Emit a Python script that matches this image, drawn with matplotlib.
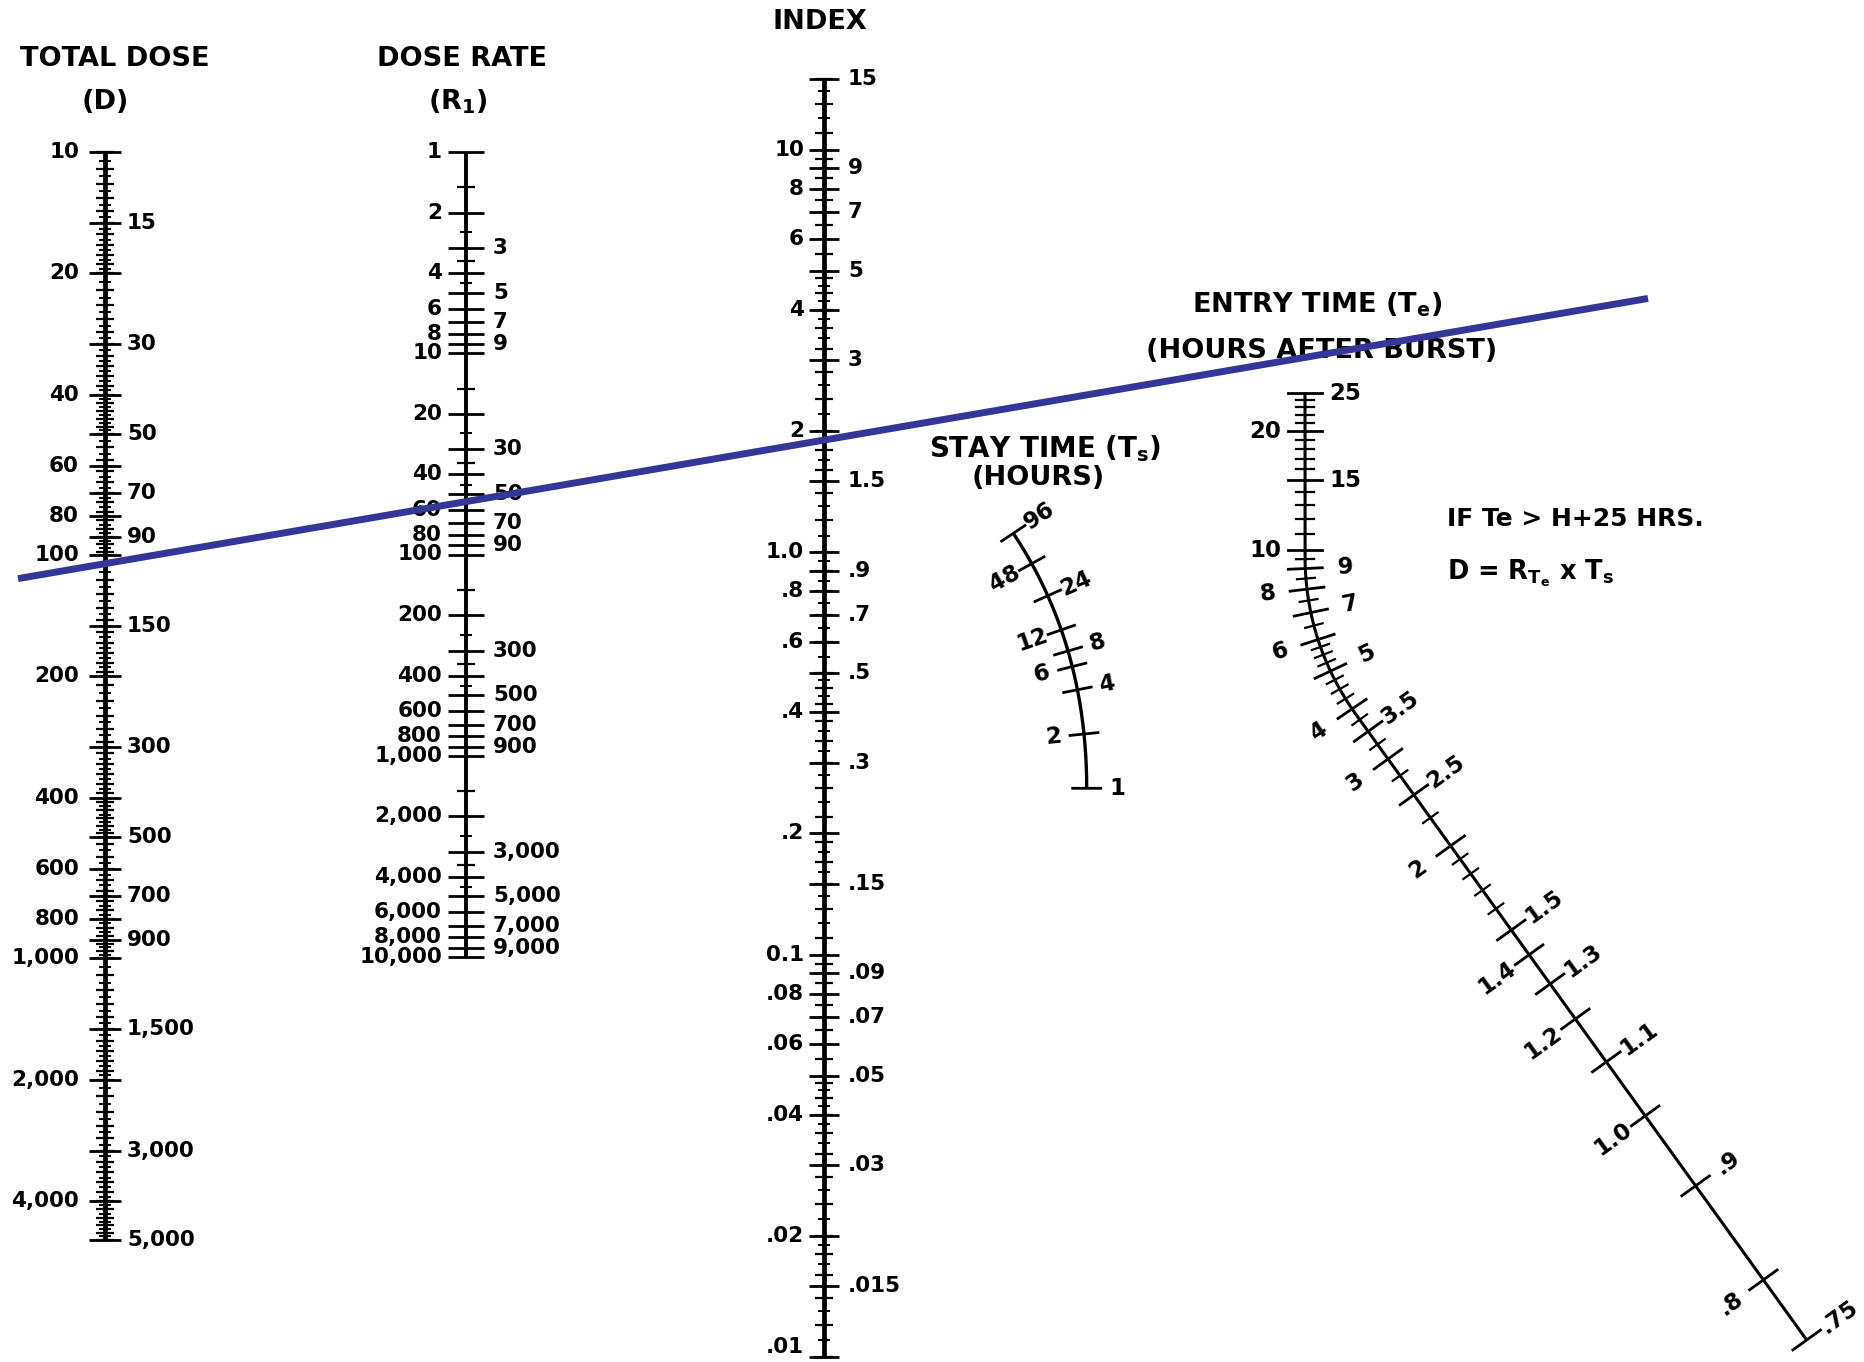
import numpy as np
import matplotlib
matplotlib.use('Agg')
import matplotlib.pyplot as plt

plt.rcParams['font.family'] = ['DejaVu Sans']
plt.rcParams['font.weight'] = 'bold'
plt.rcParams['mathtext.fontset'] = 'dejavusans'

W, H = 1864, 1362

# total dose (D) scale
dose_left = [10, 20, 40, 60, 80, 100, 200, 400, 600, 800, 1000, 2000, 4000]
dose_right = [15, 30, 50, 70, 90, 150, 300, 500, 700, 900, 1500, 3000, 5000]
# dose rate (R1) scale
rate_left = [1, 2, 4, 6, 8, 10, 20, 40, 60, 80, 100, 200, 400, 600, 800,
             1000, 2000, 4000, 6000, 8000, 10000]
rate_right = [3, 5, 7, 9, 30, 50, 70, 90, 300, 500, 700, 900, 3000, 5000, 7000, 9000]
# index scale
index_left = [10, 8, 6, 4, 2, 1.0, .8, .6, .4, .2, .1, .08, .06, .04, .02, .01]
index_left_txt = ['10', '8', '6', '4', '2', '1.0', '.8', '.6', '.4', '.2', '0.1',
                  '.08', '.06', '.04', '.02', '.01']
index_right = [15, 9, 7, 5, 3, 1.5, .9, .7, .5, .3, .15, .09, .07, .05, .03, .015]
index_right_txt = ['15', '9', '7', '5', '3', '1.5', '.9', '.7', '.5', '.3', '.15',
                   '.09', '.07', '.05', '.03', '.015']
# stay time (Ts) scale
stay_left = [2, 6, 12, 48]
stay_right = [1, 4, 8, 24, 96]
# entry time (Te) scale
entry_left = [20, 10, 8, 6, 4, 3, 2, 1.4, 1.2, 1.0, 0.8]
entry_left_txt = ['20', '10', '8', '6', '4', '3', '2', '1.4', '1.2', '1.0', '.8']
entry_right = [25, 15, 9, 7, 5, 3.5, 2.5, 1.5, 1.3, 1.1, 0.9, 0.75]
entry_right_txt = ['25', '15', '9', '7', '5', '3.5', '2.5', '1.5', '1.3', '1.1', '.9', '.75']
entry_minor = np.concatenate([np.arange(10, 25, 1.0), np.arange(6, 10, 0.5),
                              np.arange(2, 6, 0.25), np.arange(1.5, 2, 0.1)])
# example reading drawn across the chart
key_dose = 105
key_index = 1.9

LBL = 15.5
TTL = 19.5


def decade_ticks(lo, hi, steps):
    out = []
    d = 10.0 ** np.floor(np.log10(lo))
    while d < hi * 1.0001:
        for a, b, s in steps:
            out.extend(np.arange(a, b - 1e-9, s) * d)
        d *= 10
    out = np.array(out)
    return out[(out >= lo * 0.9999) & (out <= hi * 1.0001)]


fig = plt.figure(figsize=(W / 100, H / 100), dpi=100)


def vertical_scale(xc, ytop, ybot, vtop, vbot, lw):
    aw = 240
    ax = fig.add_axes([(xc - aw / 2) / W, 1 - ybot / H, aw / W, (ybot - ytop) / H])
    ax.set_yscale('log')
    ax.set_ylim(vbot, vtop)
    ax.set_xlim(-aw / 2, aw / 2)
    ax.axis('off')
    ax.plot([0, 0], [vtop, vbot], color='black', lw=lw, solid_capstyle='butt', clip_on=False)
    return ax


def ticks_and_labels(ax, minor, left, left_txt, right, right_txt, loff, roff, mlen=16,
                     bottom=None):
    ax.hlines(minor[::2], -9, 9, color='black', lw=1.6, clip_on=False)
    ax.hlines(minor[1::2], -6, 6, color='black', lw=1.4, clip_on=False)
    ax.hlines(left + right, -mlen, mlen, color='black', lw=2.0, clip_on=False)
    for v, t in zip(left, left_txt):
        ax.text(-loff, v, t, ha='right', va='bottom' if v == bottom else 'center',
                fontsize=LBL, clip_on=False)
    for v, t in zip(right, right_txt):
        ax.text(roff, v, t, ha='left', va='center', fontsize=LBL, clip_on=False)


# total dose
ax_d = vertical_scale(105, 152, 1240, 10, 5000, 3.4)
ticks_and_labels(ax_d, decade_ticks(10, 5000, [(1, 2, 0.05), (2, 5, 0.1), (5, 10, 0.2)]),
                 dose_left, [f'{v:,}' for v in dose_left],
                 dose_right, [f'{v:,}' for v in dose_right], 26, 22)

# dose rate
ax_r = vertical_scale(466, 152, 957, 1, 10000, 2.8)
ticks_and_labels(ax_r, decade_ticks(1, 10000, [(1.5, 5, 1.0)]),
                 rate_left, [f'{v:,}' for v in rate_left],
                 rate_right, [f'{v:,}' for v in rate_right], 24, 27, mlen=18)

# index
ax_i = vertical_scale(824, 79, 1357, 15, 0.01, 3.4)
ticks_and_labels(ax_i, decade_ticks(0.01, 15, [(1, 2, 0.1), (2, 5, 0.2), (5, 10, 0.5)]),
                 index_left, index_left_txt, index_right, index_right_txt, 20, 24, mlen=15,
                 bottom=0.01)

# overlay axes in pixel units for the curved scales, texts and key line
ax0 = fig.add_axes([0, 0, 1, 1])
ax0.set_xlim(0, W)
ax0.set_ylim(H, 0)
ax0.axis('off')
ax0.set_zorder(5)


def path_points(segments, n=400):
    pts = []
    for seg in segments:
        seg = np.asarray(seg, float)
        t = np.linspace(0, 1, n)[:, None]
        if len(seg) == 2:
            p = (1 - t) * seg[0] + t * seg[1]
        else:
            p = (1 - t) ** 2 * seg[0] + 2 * (1 - t) * t * seg[1] + t ** 2 * seg[2]
        pts.append(p if not pts else p[1:])
    pts = np.vstack(pts)
    arc = np.concatenate([[0], np.cumsum(np.hypot(*np.diff(pts, axis=0).T))])
    return pts, arc


def place(pts, arc, frac):
    a = frac * arc[-1]
    x = np.interp(a, arc, pts[:, 0])
    y = np.interp(a, arc, pts[:, 1])
    i = int(np.clip(np.searchsorted(arc, a), 1, len(arc) - 1))
    tx, ty = pts[i] - pts[i - 1]
    n = np.hypot(tx, ty)
    nx, ny = -ty / n, tx / n
    if nx < 0:
        nx, ny = -nx, -ny
    return x, y, nx, ny


def curved_scale(pts, arc, frac, minor, left, left_txt, right, right_txt,
                 mlen, nlen, off, lw):
    ax0.plot(pts[:, 0], pts[:, 1], color='black', lw=lw, solid_capstyle='butt')
    for v in minor:
        x, y, nx, ny = place(pts, arc, frac(v))
        ax0.plot([x - nlen * nx, x + nlen * nx], [y - nlen * ny, y + nlen * ny],
                 color='black', lw=1.6)
    for vals, txts, sgn in ((left, left_txt, -1), (right, right_txt, 1)):
        for v, t in zip(vals, txts):
            x, y, nx, ny = place(pts, arc, frac(v))
            ax0.plot([x - mlen * nx, x + mlen * nx], [y - mlen * ny, y + mlen * ny],
                     color='black', lw=2.0)
            ang = np.degrees(np.arctan2(-ny, nx))
            ax0.text(x + sgn * off * nx, y + sgn * off * ny, t, fontsize=LBL + 1,
                     ha='center', va='center', rotation=ang, rotation_mode='anchor')


# stay time
stay_pts, stay_arc = path_points([((1086.7, 788.3), (1086.7, 643.5), (1013.3, 533.3))])
stay_s = lambda v: 50.8 * np.log(v) + 38.6 * (1 - 1 / v)
curved_scale(stay_pts, stay_arc, lambda v: stay_s(v) / stay_s(96), [],
             stay_left, [str(v) for v in stay_left], stay_right, [str(v) for v in stay_right],
             14, 8, 31, 2.4)

# entry time
entry_pts, entry_arc = path_points([((1305, 393), (1305, 555)),
                                    ((1305, 555), (1305, 643.8), (1356.9, 715.8)),
                                    ((1356.9, 715.8), (1806.7, 1340))])
entry_s = lambda v: 170 * np.log(25 / v) + 302 * (1 / v - 0.04) ** 2
curved_scale(entry_pts, entry_arc, lambda v: entry_s(v) / entry_s(0.75),
             [v for v in entry_minor if v not in entry_left + entry_right],
             entry_left, entry_left_txt, entry_right, entry_right_txt, 17, 9, 40, 2.2)

# titles and notes
ax0.text(115, 59, 'TOTAL DOSE', ha='center', va='center', fontsize=TTL)
ax0.text(105, 102, '(D)', ha='center', va='center', fontsize=TTL)
ax0.text(462, 59, 'DOSE RATE', ha='center', va='center', fontsize=TTL)
ax0.text(458, 102, r'(R$_\mathbf{1}$)', ha='center', va='center', fontsize=TTL)
ax0.text(820, 22, 'INDEX', ha='center', va='center', fontsize=TTL)
ax0.text(1045, 449, r'STAY TIME (T$_\mathbf{s}$)', ha='center', va='center', fontsize=TTL + 0.5)
ax0.text(1038, 478, '(HOURS)', ha='center', va='center', fontsize=TTL)
ax0.text(1317, 305, r'ENTRY TIME (T$_\mathbf{e}$)', ha='center', va='center', fontsize=TTL)
ax0.text(1322, 351, '(HOURS AFTER BURST)', ha='center', va='center', fontsize=TTL)
ax0.text(1447, 519, 'IF Te > H+25 HRS.', ha='left', va='center', fontsize=TTL - 1.5)
ax0.text(1447, 573, r'D = R$_{\mathbf{T_e}}$ x T$_\mathbf{s}$', ha='left', va='center',
         fontsize=TTL - 1)

# key line through the dose and index readings
to_px = ax0.transData.inverted()
p1 = to_px.transform(ax_d.transData.transform((0, key_dose)))
p2 = to_px.transform(ax_i.transData.transform((0, key_index)))
slope = (p2[1] - p1[1]) / (p2[0] - p1[0])
xs = np.array([18, 1648])
ax0.plot(xs, p1[1] + slope * (xs - p1[0]), color='#36359a', lw=5, solid_capstyle='butt', zorder=10)

fig.savefig('out.png', dpi=100, facecolor='white')
